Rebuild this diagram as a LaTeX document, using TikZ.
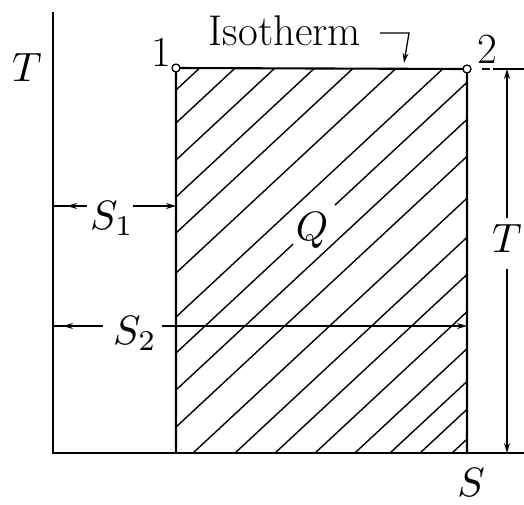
\documentclass[tikz,border=0pt]{standalone}
\usepackage{graphicx}
\usepackage{fontspec}
\usetikzlibrary{arrows.meta}
\newcommand{\hugemath}[1]{\scalebox{4.1}{$#1$}}
\begin{document}
\begin{tikzpicture}[x=1pt,y=-1pt,
  axis/.style={line width=2.2pt},
  edge/.style={line width=2.1pt},
  hatch/.style={line width=1.4pt},
  dim/.style={line width=1.3pt},
  tip/.style={-{Stealth[length=10pt,width=6pt]}},
  lbl/.style={inner sep=0pt},
  txt/.style={inner sep=0pt, font=\fontsize{43}{50}\selectfont},
  pt/.style={circle,draw,line width=1.3pt,fill=white,inner sep=0pt,minimum size=8pt}]
\useasboundingbox (0,0) rectangle (524,504);
% frame coordinates
\coordinate (O) at (53,453);
\coordinate (Ytop) at (53,12);
\coordinate (Xend) at (524,453);
\coordinate (A) at (176,68);
\coordinate (B) at (467,69);
\coordinate (C) at (467,453);
\coordinate (D) at (176,453);
% hatching
\begin{scope}
  \clip (176,68) rectangle (467,453);
  \foreach \c in {253.7,286.7,323.7,360.7,396.7,436.7,480.7,553.7,590.7,632.5,671.6,708.8,746,783,815.7,843.6,873.4}
    \draw[hatch] (150,\c-139.5) -- (500,\c-465);
  \draw[hatch] (150,377.2) -- (293,244.2);
  \draw[hatch] (335,205.1) -- (500,51.7);
\end{scope}
% axes and cycle
\draw[axis] (Ytop) -- (O) -- (Xend);
\draw[edge] (D) -- (A) -- (B) -- (C);
\node[pt] (n1) at (A) {};
\node[pt] (n2) at (B) {};
% labels
\node[lbl] (Tl) at (27,67) {\hugemath{T}};
\node[txt,anchor=base] (l1) at (161,66) {1};
\node[txt,anchor=base] (l2) at (487,63) {2};
\node[txt,anchor=base] (iso) at (285,45) {Isotherm};
\node[lbl] (Q) at (312,230) {\hugemath{Q}};
\node[lbl] (Sx) at (471,482) {\hugemath{S}};
\node[lbl] (Tr) at (507,238) {\hugemath{T}};
\node[lbl,anchor=base] (s1) at (112,229) {\hugemath{S_1}};
\node[lbl,anchor=base] (s2) at (135,344) {\hugemath{S_2}};
% isotherm pointer
\coordinate (h0) at (380,33);
\coordinate (h1) at (409,33);
\coordinate (h2) at (404,63);
\draw[dim,tip] (h0) -- (h1) -- (h2);
% dashed extension at state 2
\coordinate (d0) at (482,69);
\coordinate (d1) at (524,69);
\draw[dim,dash pattern=on 8pt off 3pt on 60pt] (d0) -- (d1);
% right dimension T
\coordinate (Rt) at (507,69);
\coordinate (Rb) at (507,453);
\draw[dim,tip] ([yshift=6pt]Tr.north) -- (Rt);
\draw[dim,tip] ([yshift=-17pt]Tr.south) -- (Rb);
% S1 dimension
\coordinate (s1a) at (53,206);
\coordinate (s1b) at (87,206);
\coordinate (s1m) at (67,206);
\coordinate (s1c) at (133,206);
\coordinate (s1d) at (176,206);
\draw[dim] (s1a) -- (s1b);
\draw[dim,tip] (s1b) -- (s1m);
\draw[dim,tip] (s1c) -- (s1d);
% S2 dimension
\coordinate (s2a) at (53,326);
\coordinate (s2b) at (103,326);
\coordinate (s2m) at (63,326);
\coordinate (s2c) at (162,326);
\coordinate (s2d) at (467,326);
\draw[dim] (s2a) -- (s2b);
\draw[dim,tip] (s2b) -- (s2m);
\draw[dim,tip] (s2c) -- (s2d);
\end{tikzpicture}
\end{document}
